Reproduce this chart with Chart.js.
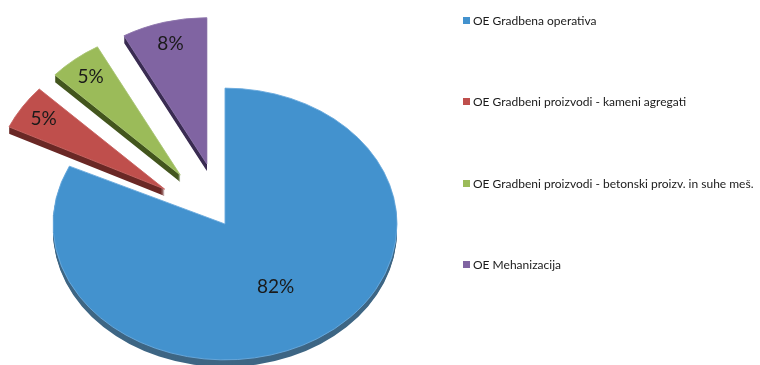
<!DOCTYPE html>
<html>
<head>
<meta charset="utf-8">
<script src="https://cdn.jsdelivr.net/npm/chart.js@4/dist/chart.umd.min.js"></script>
<style>
  body { margin: 0; background: #fff; }
  #wrap { position: relative; width: 760px; height: 365px; }
  #legend { position: absolute; left: 463px; top: 0; font-family: Lato, 'Open Sans', sans-serif; font-size: 12px; color: #1a1a1a; }
  #legend div { position: absolute; white-space: nowrap; display: flex; align-items: center; height: 14px; }
  #legend span.box { display: inline-block; width: 7px; height: 7px; margin-right: 3px; }
</style>
</head>
<body>
<div id="wrap">
  <canvas id="chart" width="760" height="365"></canvas>
  <div id="legend"></div>
</div>
<script>
// Udeleženost organizacijskih enot (v %)
const units = ['OE Gradbena operativa', 'OE Gradbeni proizvodi - kameni agregati', 'OE Gradbeni proizvodi - betonski proizv. in suhe meš.', 'OE Mehanizacija'];
const shares = [82, 5, 5, 8];

// barve zgornje ploskve in stranic
const faceColors = ['#4392ce', '#bf4f4c', '#9bbb59', '#8064a2'];
const sideColors = ['#3e6684', '#6b2826', '#43561e', '#3a2c52'];
const edgeColors = ['#6aaade', '#c96664', '#aac676', '#8e76ad'];

// nagnjena (3D) torta: sploščen krog, izvlečeni kosi in debelina
const tiltedPie = {
    id: 'tiltedPie',
    beforeDatasetsDraw(chart, args, opts) {
        const ctx = chart.ctx;
        const arcs = chart.getDatasetMeta(0).data;
        const total = shares.reduce((a, b) => a + b, 0);

        function place(arc, i, dy) {
            const mid = (arc.startAngle + arc.endAngle) / 2;
            const ex = opts.explode[i];
            ctx.translate(opts.centerX, opts.centerY + dy);
            ctx.scale(1, opts.ratio[i]);
            ctx.translate(Math.cos(mid) * ex - arc.x, Math.sin(mid) * ex - arc.y);
        }

        // stranice - več slojev pod ploskvijo
        arcs.forEach((arc, i) => {
            ctx.fillStyle = sideColors[i];
            for (let d = opts.depth; d > 0; d--) {
                ctx.save();
                place(arc, i, d);
                ctx.beginPath();
                ctx.moveTo(arc.x, arc.y);
                ctx.arc(arc.x, arc.y, arc.outerRadius, arc.startAngle, arc.endAngle);
                ctx.closePath();
                ctx.fill();
                ctx.restore();
            }
        });

        // zgornje ploskve riše Chart.js sam
        arcs.forEach((arc, i) => {
            ctx.save();
            place(arc, i, 0);
            arc.draw(ctx);
            ctx.restore();
        });

        // odstotki
        ctx.save();
        ctx.font = '19px Lato, "Open Sans", sans-serif';
        ctx.fillStyle = '#1a1a1a';
        ctx.textAlign = 'center';
        ctx.textBaseline = 'middle';
        arcs.forEach((arc, i) => {
            const mid = (arc.startAngle + arc.endAngle) / 2;
            const big = arc.endAngle - arc.startAngle > Math.PI;
            const dist = opts.explode[i] + arc.outerRadius * (big ? 0.55 : 0.85);
            const x = opts.centerX + Math.cos(mid) * dist;
            const y = opts.centerY + Math.sin(mid) * dist * opts.ratio[i];
            ctx.fillText(Math.round(shares[i] / total * 100) + '%', x, y);
        });
        ctx.restore();
        return false;
    }
};

new Chart(document.getElementById('chart'), {
    type: 'pie',
    data: {
        labels: units,
        datasets: [{
            data: shares,
            backgroundColor: faceColors,
            borderColor: edgeColors,
            borderWidth: 1,
            clip: false
        }]
    },
    options: {
        responsive: false,
        animation: false,
        radius: 172,
        plugins: {
            legend: { display: false },
            tooltip: { enabled: false },
            tiltedPie: {
                centerX: 225,
                centerY: 224,
                ratio: [0.79, 0.85, 0.85, 0.85],
                depth: 7,
                explode: [0, 73, 73, 73]
            }
        }
    },
    plugins: [tiltedPie]
});

// legenda desno
const legendTops = [20, 101, 183, 264];
const legend = document.getElementById('legend');
units.forEach((name, i) => {
    const item = document.createElement('div');
    item.style.top = (legendTops[i] - 7) + 'px';
    item.innerHTML = '<span class="box" style="background:' + faceColors[i] + '"></span>' + name;
    legend.appendChild(item);
});
</script>
</body>
</html>
